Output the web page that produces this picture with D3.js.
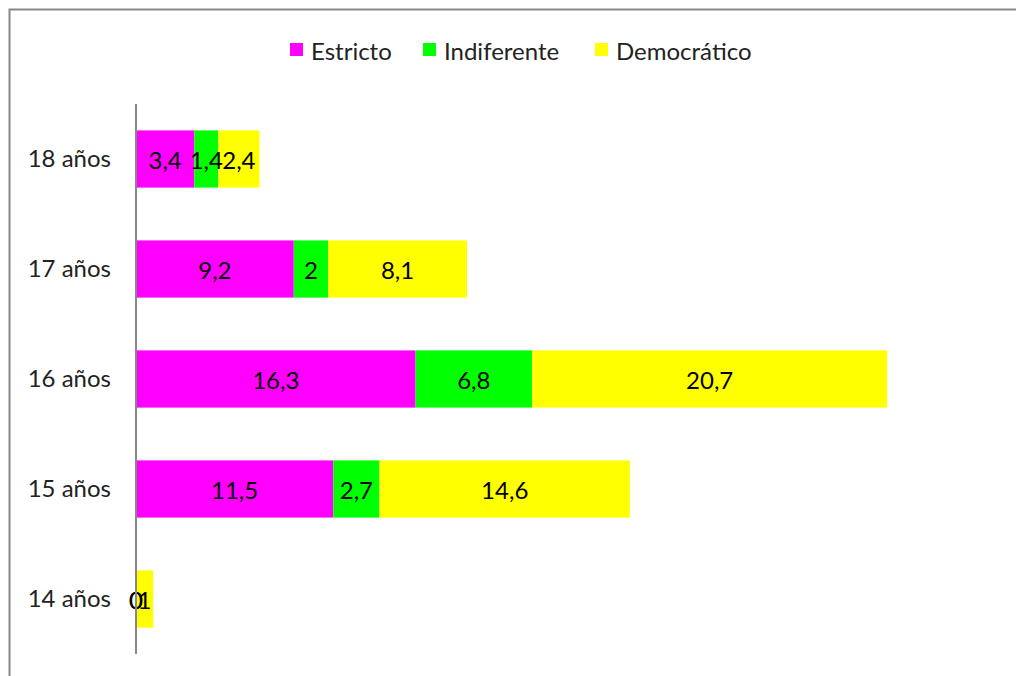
<!DOCTYPE html>
<html><head><meta charset="utf-8">
<script src="https://cdn.jsdelivr.net/npm/d3@7"></script>
<style>html,body{margin:0;padding:0;background:#fff;overflow:hidden;width:1016px;height:676px}svg{display:block}</style>
</head><body>
<script>
const categories = ["18 años", "17 años", "16 años", "15 años", "14 años"];
const seriesNames = ["Estricto", "Indiferente", "Democrático"];
const estricto = [3.4, 9.2, 16.3, 11.5, 0];
const indiferente = [1.4, 2, 6.8, 2.7, 0];
const democratico = [2.4, 8.1, 20.7, 14.6, 1];
const colors = ["#ff00ff", "#00ff00", "#ffff00"];

const W = 1016, H = 676;
const font = "Lato, 'Noto Sans', sans-serif";
const fs = 24;
const svg = d3.select("body").append("svg").attr("width", W).attr("height", H);

svg.append("path").attr("d", "M9.5,676V9.5H1016")
  .attr("fill", "none").attr("stroke", "#888").attr("stroke-width", 2);

const rows = categories.map((c, i) => ({cat: c, Estricto: estricto[i], Indiferente: indiferente[i], "Democrático": democratico[i]}));
const stacked = d3.stack().keys(seriesNames)(rows);

const x = d3.scaleLinear().domain([0, 50]).range([136, 136 + 17.15 * 50]);
const y = d3.scaleBand().domain(categories).range([104, 654]).paddingInner(0.48).paddingOuter(0.24);

const fmt = v => String(v).replace(".", ",");

stacked.forEach((s, si) => {
  svg.append("g").selectAll("rect").data(s).join("rect")
    .attr("x", d => x(d[0])).attr("y", d => y(d.data.cat))
    .attr("width", d => x(d[1]) - x(d[0])).attr("height", y.bandwidth())
    .attr("fill", colors[si]);
});
stacked.forEach((s, si) => {
  svg.append("g").selectAll("text").data(s).join("text")
    .attr("x", d => (x(d[0]) + x(d[1])) / 2)
    .attr("y", d => y(d.data.cat) + y.bandwidth() / 2)
    .attr("text-anchor", "middle").attr("dominant-baseline", "central")
    .attr("font-family", font).attr("font-size", fs).attr("fill", "#000")
    .text(d => fmt(+(d[1] - d[0]).toFixed(1)));
});

// y axis
const yAxis = d3.axisLeft(y).tickSize(0).tickPadding(25);
const ga = svg.append("g").attr("transform", "translate(136,0)").call(yAxis);
ga.select(".domain").attr("stroke", "#888").attr("stroke-width", 2).attr("d", "M0,104V654");
ga.selectAll("text").attr("font-family", font).attr("font-size", fs).attr("fill", "#222");

// legend
const legX = [290, 423, 595];
const leg = svg.append("g");
seriesNames.forEach((n, i) => {
  leg.append("rect").attr("x", legX[i]).attr("y", 43).attr("width", 13).attr("height", 13).attr("fill", colors[i]);
  leg.append("text").attr("x", legX[i] + 21).attr("y", 50).attr("dominant-baseline", "central")
    .attr("font-family", font).attr("font-size", fs).attr("fill", "#222").text(n);
});
</script>
</body></html>
